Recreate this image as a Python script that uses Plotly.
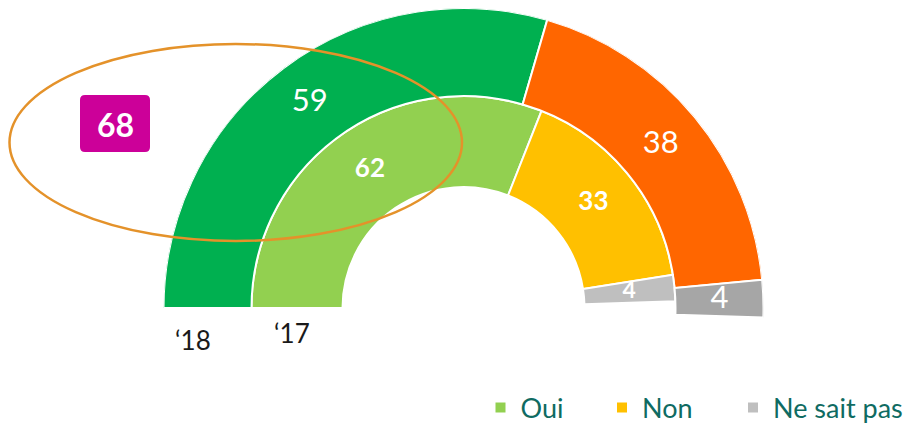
import plotly.graph_objects as go

# ---------------- data ----------------
categories = ["Oui", "Non", "Ne sait pas"]
years = ["\u201818", "\u201817"]
values_2018 = [59, 38, 4]   # outer ring
values_2017 = [62, 33, 4]   # inner ring
highlight_value = 68

colors_2018 = ["#00B050", "#FF6600", "#A6A6A6"]
colors_2017 = ["#92D050", "#FFC000", "#BFBFBF"]

# ---------------- geometry / style ----------------
W, H = 917, 424
OFF = 8          # page body margin offset (screen px -> figure px)
R_OUT = 300.0
R_MID = 212.0
R_IN = 121.0
CX, CY = 463.5, 308.0   # screen position of the ring centre
DEG_PER_UNIT = 180.0 / 100.0
SECTOR = [-2, 180]
FONT = "Lato"
LEGEND_COLOR = "#0F6B62"


def X(px):
    """screen px -> paper x"""
    return (px - OFF) / W


def Y(py):
    """screen px -> paper y"""
    return 1 - (py - OFF) / H


def segments(vals):
    mids, widths = [], []
    cum = 0
    for v in vals:
        mids.append((cum + v / 2) * DEG_PER_UNIT)
        widths.append(v * DEG_PER_UNIT)
        cum += v
    return mids, widths


mid18, w18 = segments(values_2018)
mid17, w17 = segments(values_2017)

fig = go.Figure()

legend_ids = ["legend", "legend2", "legend3"]
for i, cat in enumerate(categories):
    fig.add_trace(go.Barpolar(
        name=cat,
        r=[R_MID - R_IN, R_OUT - R_MID],
        base=[R_IN, R_MID],
        theta=[mid17[i], mid18[i]],
        width=[w17[i], w18[i]],
        marker=dict(color=[colors_2017[i], colors_2018[i]],
                    line=dict(color="white", width=2)),
        hoverinfo="skip",
        showlegend=True,
        legend=legend_ids[i],
    ))

fig.add_trace(go.Scatterpolar(
    r=[(R_MID + R_OUT) / 2] * 3, theta=mid18,
    text=[str(v) for v in values_2018], mode="text",
    textfont=dict(color="white", size=31, family=FONT),
    showlegend=False, hoverinfo="skip",
))
fig.add_trace(go.Scatterpolar(
    r=[(R_IN + R_MID) / 2] * 3, theta=mid17,
    text=[str(v) for v in values_2017], mode="text",
    textfont=dict(color="white", size=[26, 26, 23], family=FONT, weight="bold"),
    showlegend=False, hoverinfo="skip",
))

# rounded magenta box
bx0, bx1, by0, by1, rr = 80, 150, 95, 152, 5
path = (
    f"M {X(bx0 + rr)},{Y(by0)} L {X(bx1 - rr)},{Y(by0)} Q {X(bx1)},{Y(by0)} {X(bx1)},{Y(by0 + rr)} "
    f"L {X(bx1)},{Y(by1 - rr)} Q {X(bx1)},{Y(by1)} {X(bx1 - rr)},{Y(by1)} "
    f"L {X(bx0 + rr)},{Y(by1)} Q {X(bx0)},{Y(by1)} {X(bx0)},{Y(by1 - rr)} "
    f"L {X(bx0)},{Y(by0 + rr)} Q {X(bx0)},{Y(by0)} {X(bx0 + rr)},{Y(by0)} Z"
)

shapes = [
    dict(type="path", xref="paper", yref="paper", path=path,
         fillcolor="#CC0099", line=dict(width=0), layer="above"),
    dict(type="circle", xref="paper", yref="paper",
         x0=X(9.5), x1=X(462), y0=Y(241), y1=Y(44),
         line=dict(color="#E4922A", width=2.5), layer="above"),
]

annotations = [
    dict(x=X(115), y=Y(124), xref="paper", yref="paper", text=str(highlight_value),
         xanchor="center", yanchor="middle",
         showarrow=False, font=dict(color="white", size=32, family=FONT, weight="bold")),
    dict(x=X(193), y=Y(340), xref="paper", yref="paper", text=years[0],
         xanchor="center", yanchor="middle",
         showarrow=False, font=dict(color="#1a1a1a", size=26, family=FONT)),
    dict(x=X(292), y=Y(333), xref="paper", yref="paper", text=years[1],
         xanchor="center", yanchor="middle",
         showarrow=False, font=dict(color="#1a1a1a", size=26, family=FONT)),
]

# polar domain from centre / radius (screen px)
sin2 = 0.0349
dom_x = [X(CX - R_OUT), X(CX + R_OUT)]
dom_y = [Y(CY + R_OUT * sin2), min(1.0, Y(CY - R_OUT))]

legend_common = dict(orientation="h", xanchor="left", yanchor="middle", y=Y(408),
                     font=dict(color=LEGEND_COLOR, size=27, family=FONT),
                     bgcolor="rgba(0,0,0,0)", itemclick=False, itemdoubleclick=False)

fig.update_layout(
    width=W, height=H,
    margin=dict(l=0, r=0, t=0, b=0, autoexpand=False),
    paper_bgcolor="white",
    plot_bgcolor="white",
    polar=dict(
        domain=dict(x=dom_x, y=dom_y),
        sector=SECTOR,
        bgcolor="rgba(0,0,0,0)",
        barmode="overlay",
        radialaxis=dict(range=[0, R_OUT], visible=False, showgrid=False,
                        showline=False, showticklabels=False, ticks=""),
        angularaxis=dict(visible=False, rotation=180, direction="clockwise",
                         thetaunit="degrees", showgrid=False, showline=False,
                         showticklabels=False, ticks=""),
    ),
    legend=dict(x=X(480.5), **legend_common),
    legend2=dict(x=X(602), **legend_common),
    legend3=dict(x=X(733), **legend_common),
    shapes=shapes,
    annotations=annotations,
    font=dict(family=FONT),
)

fig.write_html("out.html")
